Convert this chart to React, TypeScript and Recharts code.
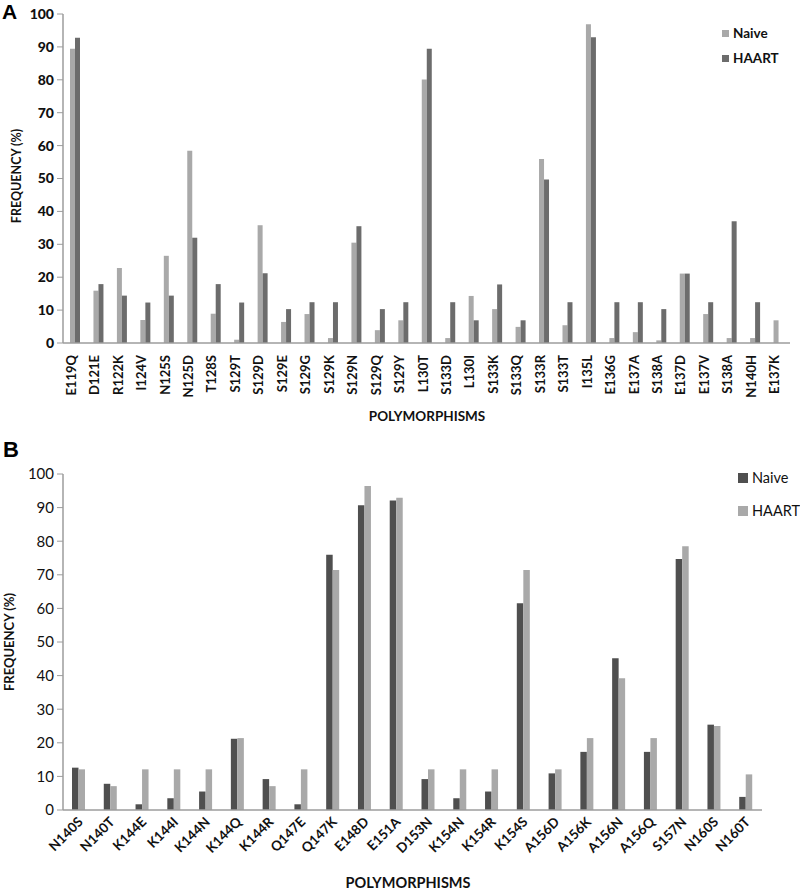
import { Bar, BarChart, XAxis, YAxis } from "recharts";

const categoriesA = [
	"E119Q", "D121E", "R122K", "I124V", "N125S", "N125D", "T128S", "S129T",
	"S129D", "S129E", "S129G", "S129K", "S129N", "S129Q", "S129Y", "L130T",
	"S133D", "L130I", "S133K", "S133Q", "S133R", "S133T", "I135L", "E136G",
	"E137A", "S138A", "E137D", "E137V", "S138A", "N140H", "E137K",
];
const naiveA = [
	89.4, 15.9, 22.8, 7.0, 26.5, 58.4, 8.9, 1.0, 35.8, 6.4, 8.8, 1.5, 30.5, 3.9,
	6.9, 80.1, 1.5, 14.3, 10.3, 4.9, 55.9, 5.4, 96.9, 1.5, 3.3, 0.8, 21.1, 8.8,
	1.5, 1.5, 6.9,
];
const haartA = [
	92.8, 17.9, 14.4, 12.3, 14.4, 32.0, 17.9, 12.3, 21.2, 10.3, 12.4, 12.4, 35.5,
	10.3, 12.4, 89.4, 12.4, 6.9, 17.8, 6.9, 49.7, 12.4, 92.9, 12.4, 12.4, 10.3,
	21.1, 12.4, 37.0, 12.4, 0,
];

const categoriesB = [
	"N140S", "N140T", "K144E", "K144I", "K144N", "K144Q", "K144R", "Q147E",
	"Q147K", "E148D", "E151A", "D153N", "K154N", "K154R", "K154S", "A156D",
	"A156K", "A156N", "A156Q", "S157N", "N160S", "N160T",
];
const naiveB = [
	12.6, 7.8, 1.7, 3.5, 5.5, 21.2, 9.2, 1.7, 76.0, 90.7, 92.1, 9.2, 3.5, 5.5,
	61.5, 10.9, 17.3, 45.2, 17.3, 74.7, 25.4, 3.9,
];
const haartB = [
	12.1, 7.1, 12.1, 12.1, 12.1, 21.4, 7.1, 12.1, 71.4, 96.4, 92.9, 12.1, 12.1,
	12.1, 71.4, 12.1, 21.4, 39.2, 21.4, 78.5, 25.0, 10.6,
];

const yTicks = [0, 10, 20, 30, 40, 50, 60, 70, 80, 90, 100];

const LIGHT = "#a9a9a9";
const MID = "#6c6c6c";
const DARK = "#4f4f4f";
const AXIS = "#9c9c9c";
const FONT = "Lato, 'Open Sans', sans-serif";

const dataA = categoriesA.map((name, i) => ({
	name,
	naive: naiveA[i],
	haart: haartA[i],
}));
const dataB = categoriesB.map((name, i) => ({
	name,
	naive: naiveB[i],
	haart: haartB[i],
}));

function TickA({ x, y, payload }: any) {
	return (
		<g transform={`translate(${x},${y + 12})`}>
			<text
				x={0}
				y={0}
				dy={1}
				textAnchor="end"
				transform="rotate(-90)"
				fontFamily={FONT}
				fontWeight={700}
				fontSize={13}
				fill="#111"
			>
				{payload.value}
			</text>
		</g>
	);
}

function TickB({ x, y, payload }: any) {
	return (
		<g transform={`translate(${x + 2},${y + 10})`}>
			<text
				x={0}
				y={0}
				dy={4}
				textAnchor="end"
				transform="rotate(-45)"
				fontFamily={FONT}
				fontWeight={700}
				fontSize={13.5}
				fill="#111"
			>
				{payload.value}
			</text>
		</g>
	);
}

function LegendItem({ color, label, top, size, fontSize, bold }: any) {
	return (
		<div
			style={{
				position: "absolute",
				top,
				display: "flex",
				alignItems: "center",
				gap: 4,
				fontFamily: FONT,
				fontSize,
				fontWeight: bold ? 700 : 400,
				color: "#111",
				whiteSpace: "nowrap",
			}}
		>
			<span style={{ width: size, height: size, background: color }} />
			{label}
		</div>
	);
}

export default function App() {
	return (
		<div
			style={{
				position: "absolute",
				left: 0,
				top: 0,
				width: 800,
				height: 891,
				background: "#fff",
				overflow: "hidden",
			}}
		>
			{/* panel A */}
			<div style={{ position: "absolute", left: 0, top: 0 }}>
				<BarChart
					width={800}
					height={420}
					data={dataA}
					margin={{ top: 14, right: 10, left: 0, bottom: 0 }}
					barGap={0}
				>
					<XAxis
						dataKey="name"
						interval={0}
						height={77}
						tickLine={false}
						tickSize={0}
						tickMargin={0}
						axisLine={{ stroke: AXIS, strokeWidth: 1.5 }}
						tick={<TickA />}
					/>
					<YAxis
						width={63}
						domain={[0, 100]}
						ticks={yTicks}
						interval={0}
						axisLine={{ stroke: AXIS, strokeWidth: 1.5 }}
						tickLine={{ stroke: AXIS }}
						tickSize={6}
						tickMargin={3}
						tick={{ fill: "#111", fontSize: 14, fontWeight: 900, fontFamily: FONT }}
					/>
					<Bar dataKey="naive" fill={LIGHT} barSize={5} isAnimationActive={false} />
					<Bar dataKey="haart" fill={MID} barSize={5} isAnimationActive={false} />
				</BarChart>
			</div>
			<div
				style={{
					position: "absolute",
					left: 2,
					top: 0,
					fontFamily: "'Liberation Sans', Arial, sans-serif",
					fontWeight: 700,
					fontSize: 21,
					color: "#000",
				}}
			>
				A
			</div>
			<div
				style={{
					position: "absolute",
					left: 16,
					top: 176,
					transform: "translate(-50%, -50%) rotate(-90deg)",
					fontFamily: FONT,
					fontWeight: 700,
					fontSize: 12.5,
					whiteSpace: "nowrap",
					color: "#111",
				}}
			>
				FREQUENCY (%)
			</div>
			<div
				style={{
					position: "absolute",
					left: 427,
					top: 416,
					transform: "translate(-50%, -50%)",
					fontFamily: FONT,
					fontWeight: 700,
					fontSize: 13.5,
					color: "#111",
				}}
			>
				POLYMORPHISMS
			</div>
			<div style={{ position: "absolute", left: 722, top: 0 }}>
				<LegendItem color={LIGHT} label="Naive" top={25} size={7} fontSize={13.5} bold />
				<LegendItem color={MID} label="HAART" top={50} size={7} fontSize={13.5} bold />
			</div>

			{/* panel B */}
			<div style={{ position: "absolute", left: 0, top: 420 }}>
				<BarChart
					width={800}
					height={471}
					data={dataB}
					margin={{ top: 54, right: 38, left: 0, bottom: 0 }}
					barGap={0}
				>
					<XAxis
						dataKey="name"
						interval={0}
						height={81}
						tickLine={false}
						tickSize={0}
						tickMargin={0}
						axisLine={{ stroke: AXIS, strokeWidth: 1.5 }}
						tick={<TickB />}
					/>
					<YAxis
						width={63}
						domain={[0, 100]}
						ticks={yTicks}
						interval={0}
						axisLine={{ stroke: AXIS, strokeWidth: 1.5 }}
						tickLine={{ stroke: AXIS }}
						tickSize={6}
						tickMargin={3}
						tick={{ fill: "#111", fontSize: 15, fontFamily: FONT }}
					/>
					<Bar dataKey="naive" fill={DARK} barSize={6.5} isAnimationActive={false} />
					<Bar dataKey="haart" fill={LIGHT} barSize={6.5} isAnimationActive={false} />
				</BarChart>
			</div>
			<div
				style={{
					position: "absolute",
					left: 3,
					top: 437,
					fontFamily: "'Liberation Sans', Arial, sans-serif",
					fontWeight: 700,
					fontSize: 22,
					color: "#000",
				}}
			>
				B
			</div>
			<div
				style={{
					position: "absolute",
					left: 9,
					top: 642,
					transform: "translate(-50%, -50%) rotate(-90deg)",
					fontFamily: FONT,
					fontWeight: 700,
					fontSize: 13,
					whiteSpace: "nowrap",
					color: "#111",
				}}
			>
				FREQUENCY (%)
			</div>
			<div
				style={{
					position: "absolute",
					left: 408,
					top: 882,
					transform: "translate(-50%, -50%)",
					fontFamily: FONT,
					fontWeight: 700,
					fontSize: 14.5,
					color: "#111",
				}}
			>
				POLYMORPHISMS
			</div>
			<div style={{ position: "absolute", left: 738, top: 0 }}>
				<LegendItem color={DARK} label="Naive" top={469} size={10} fontSize={14.5} />
				<LegendItem color={LIGHT} label="HAART" top={502} size={10} fontSize={14.5} />
			</div>
		</div>
	);
}
